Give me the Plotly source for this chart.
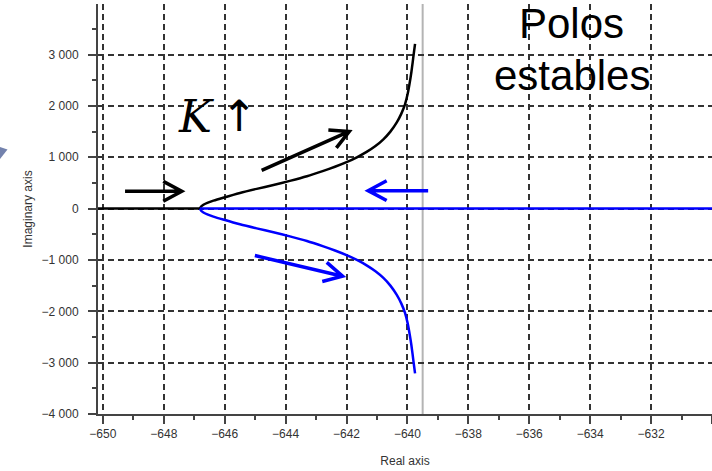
import math
import plotly.graph_objects as go

# Root locus of the closed-loop poles as the gain K grows
# Upper complex branch (lower branch is its conjugate)
branch_re = [-646.81, -646.78, -646.70, -646.55, -646.37, -646.05, -645.50,
             -644.95, -644.40, -643.86, -643.30, -642.76, -642.38, -642.00,
             -641.66, -641.34, -641.05, -640.79, -640.56, -640.35, -640.20,
             -640.08, -639.99, -639.92, -639.87, -639.83, -639.79, -639.75]
branch_im = [0, 38, 75, 118, 155, 212, 305, 385, 460, 540, 630, 735, 815, 905,
             1000, 1105, 1220, 1350, 1500, 1680, 1850, 2030, 2240, 2470, 2660,
             2840, 3030, 3210]

# Real-axis segments of the locus
black_real_re = [-650.2, -646.81]
blue_real_re = [-646.81, -630.0]

# Vertical asymptote of the complex branches
asymptote_re = -639.5

x_range = [-650.16, -630.0]
y_range = [-4000, 3985]

BLACK = "#000000"
BLUE = "#0000ff"
GRID = "#333333"
AXIS = "#444444"

fig = go.Figure()

fig.add_trace(go.Scatter(x=black_real_re, y=[0, 0], mode="lines",
                         line=dict(color=BLACK, width=2.5), hoverinfo="skip"))
fig.add_trace(go.Scatter(x=branch_re, y=branch_im, mode="lines",
                         line=dict(color=BLACK, width=2.5, shape="spline", smoothing=0.5),
                         hoverinfo="skip"))
fig.add_trace(go.Scatter(x=branch_re, y=[-v for v in branch_im], mode="lines",
                         line=dict(color=BLUE, width=2.5, shape="spline", smoothing=0.5),
                         hoverinfo="skip"))
fig.add_trace(go.Scatter(x=blue_real_re, y=[0, 0], mode="lines",
                         line=dict(color=BLUE, width=2.5), hoverinfo="skip"))

fig.add_shape(type="line", xref="x", yref="paper", x0=asymptote_re, x1=asymptote_re,
              y0=0, y1=1, line=dict(color="#b4b4b4", width=2), layer="below")

# Direction arrows: head in data coordinates, tail offset in screen pixels (y down)
arrows = [
    dict(head=(-647.41, 337), tail=(-56.7, 0.0), color=BLACK),
    dict(head=(-641.91, 1504), tail=(-87.6, 39.0), color=BLACK),
    dict(head=(-641.29, 350), tail=(60.0, 0.0), color=BLUE),
    dict(head=(-642.13, -1317), tail=(-87.7, -20.7), color=BLUE),
]
ARM = 21.0
HALF = math.radians(28)
for a in arrows:
    dx, dy = a["tail"][0], -a["tail"][1]   # y-up pixel offsets
    back = math.atan2(dy, dx)
    p1 = (ARM * math.cos(back + HALF), ARM * math.sin(back + HALF))
    p2 = (ARM * math.cos(back - HALF), ARM * math.sin(back - HALF))
    path = (f"M{dx:.1f},{dy:.1f} L0,0 M{p1[0]:.1f},{p1[1]:.1f} L0,0 "
            f"L{p2[0]:.1f},{p2[1]:.1f}")
    fig.add_shape(type="path", xref="x", yref="y", xsizemode="pixel", ysizemode="pixel",
                  xanchor=a["head"][0], yanchor=a["head"][1], path=path,
                  line=dict(color=a["color"], width=3.5))

# Small pointer tip at the left edge of the figure
fig.add_shape(type="path", xref="paper", yref="paper",
              path="M-0.1596,0.6512 L-0.1474,0.6451 L-0.1596,0.6219 Z",
              fillcolor="#7382ad", line=dict(width=0))

fig.add_annotation(x=-646.94, y=1800, xref="x", yref="y", text="<i>K</i>",
                   showarrow=False, font=dict(family="DejaVu Serif", size=44, color=BLACK))
fig.add_annotation(x=-645.52, y=1800, xref="x", yref="y", text="↑",
                   showarrow=False, font=dict(family="DejaVu Sans", size=43, color=BLACK))
fig.add_annotation(x=-634.60, y=3600, xref="x", yref="y", text="Polos",
                   showarrow=False,
                   font=dict(family="Liberation Sans", size=42, color=BLACK))
fig.add_annotation(x=-634.60, y=2600, xref="x", yref="y", text="estables",
                   showarrow=False, font=dict(family="Liberation Sans", size=42, color=BLACK))

axis_common = dict(
    showline=True, linecolor=AXIS, linewidth=2,
    ticks="outside", ticklen=8, tickwidth=1.5, tickcolor=AXIS,
    showgrid=True, gridcolor=GRID, gridwidth=1.5, griddash="6px,4px",
    zeroline=False,
    tickfont=dict(family="Liberation Sans", size=12, color="#333333"),
)

fig.update_layout(
    width=712, height=471,
    margin=dict(l=98, r=0, t=4, b=57),
    paper_bgcolor="white", plot_bgcolor="white",
    showlegend=False,
    separators=". ",
    xaxis=dict(range=x_range, tick0=-650, dtick=2,
               minor=dict(dtick=1, ticks="outside", ticklen=4, tickcolor=AXIS, showgrid=False),
               title=dict(text="Real axis", standoff=16,
                          font=dict(family="Liberation Sans", size=12, color="#333333")),
               **axis_common),
    yaxis=dict(range=y_range, tick0=0, dtick=1000, separatethousands=True,
               ticklabelstandoff=7,
               minor=dict(dtick=500, ticks="outside", ticklen=4, tickcolor=AXIS, showgrid=False),
               title=dict(text="Imaginary axis", standoff=6,
                          font=dict(family="Liberation Sans", size=12, color="#333333")),
               **axis_common),
)

fig.write_html("out.html")
